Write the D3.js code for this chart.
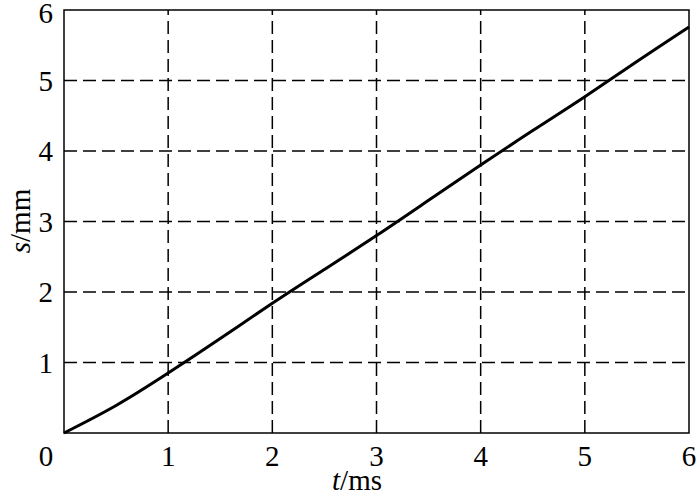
<!DOCTYPE html>
<html><head><meta charset="utf-8">
<script src="https://cdn.jsdelivr.net/npm/d3@7"></script>
<style>body{margin:0;background:#fff}svg{display:block}</style>
</head><body>
<script>
const tValues = [0,0.5,1,1.5,2,2.5,3,3.5,4,4.5,5,5.5,6];
const sValues = [0,0.39,0.85,1.34,1.84,2.32,2.80,3.30,3.80,4.29,4.77,5.27,5.76];
const xTicks = [0,1,2,3,4,5,6];
const yTicks = [0,1,2,3,4,5,6];

const W=697,H=495;
const svg=d3.select("body").append("svg").attr("width",W).attr("height",H);
const x=d3.scaleLinear().domain([0,6]).range([64,689]);
const y=d3.scaleLinear().domain([0,6]).range([433,10]);
const font="'Liberation Serif','Times New Roman',serif";

// grid
svg.append("g").selectAll("line").data(xTicks.slice(1,-1)).join("line")
 .attr("x1",d=>x(d)).attr("x2",d=>x(d)).attr("y1",y(0)).attr("y2",y(6))
 .attr("stroke","#000").attr("stroke-width",1.5).attr("stroke-dasharray","13,6");
svg.append("g").selectAll("line").data(yTicks.slice(1,-1)).join("line")
 .attr("y1",d=>y(d)).attr("y2",d=>y(d)).attr("x1",x(0)).attr("x2",x(6))
 .attr("stroke","#000").attr("stroke-width",1.5).attr("stroke-dasharray","13,6");

// frame
svg.append("rect").attr("x",x(0)).attr("y",y(6)).attr("width",x(6)-x(0)).attr("height",y(0)-y(6))
 .attr("fill","none").attr("stroke","#000").attr("stroke-width",1.5);

// tick labels
svg.append("g").selectAll("text").data(xTicks).join("text")
 .attr("x",d=>d===0?x(d)-18:x(d)).attr("y",466).attr("text-anchor","middle")
 .attr("font-family",font).attr("font-size",29).text(d=>d);
svg.append("g").selectAll("text").data(yTicks.slice(1)).join("text")
 .attr("x",53).attr("y",d=>y(d)+(d===6?13:10)).attr("text-anchor","end")
 .attr("font-family",font).attr("font-size",29).text(d=>d);

// axis titles
const xt=svg.append("text").attr("x",357).attr("y",490).attr("text-anchor","middle")
 .attr("font-family",font).attr("font-size",29);
xt.append("tspan").attr("font-style","italic").text("t");
xt.append("tspan").text("/ms");
const yt=svg.append("text").attr("transform","translate(30,221) rotate(-90)").attr("text-anchor","middle")
 .attr("font-family",font).attr("font-size",29);
yt.append("tspan").attr("font-style","italic").text("s");
yt.append("tspan").text("/mm");

// curve
svg.append("path").datum(tValues.map((t,i)=>[t,sValues[i]]))
 .attr("d",d3.line().x(d=>x(d[0])).y(d=>y(d[1])).curve(d3.curveNatural))
 .attr("fill","none").attr("stroke","#000").attr("stroke-width",3);
</script>
</body></html>
